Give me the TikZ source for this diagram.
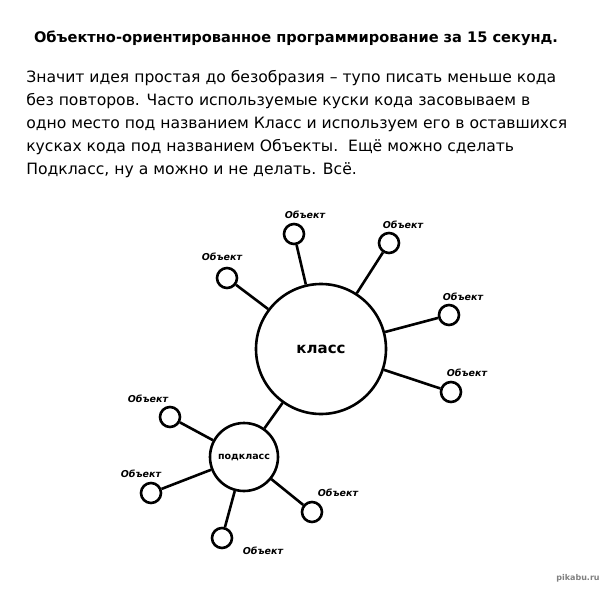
\documentclass[tikz,border=0pt]{standalone}
\usepackage{fontspec}
\setmainfont{DejaVu Sans}
\usetikzlibrary{positioning}
\begin{document}
\begin{tikzpicture}[x=1pt,y=-1pt,line width=2.6pt,big/.style={draw,circle,minimum size=130pt,inner sep=0pt,font=\fontsize{15}{18}\selectfont\bfseries},sub/.style={draw,circle,minimum size=68pt,inner sep=0pt,font=\fontsize{9.5}{11}\selectfont\bfseries},obj/.style={draw,circle,minimum size=20pt,inner sep=0pt},lbl/.style={font=\fontsize{9.5}{11}\selectfont\bfseries\itshape,inner sep=0pt},link/.style={line width=2.6pt}]
\useasboundingbox (0,0) rectangle (600,589);
\node[font=\fontsize{14.6}{18}\selectfont\bfseries] (title) at (296,38){Объектно-ориентированное программирование за 15 секунд.};
\node[anchor=north west,align=left,inner sep=0pt,font=\fontsize{15.6}{23}\selectfont] (text) at (25,69){Значит идея простая до безобразия – тупо писать меньше кода\\без повторов. Часто используемые куски кода засовываем в\\одно место под названием Класс и используем его в оставшихся\\кусках кода под названием Объекты.\ \ Ещё можно сделать\\Подкласс, ну а можно и не делать. Всё.};
% класс и его объекты
\node[big] (klass) at (321,349){класс};
\node[obj] (o1) at (227,278){}; \node[lbl] (l1) at (222,257){Объект};
\node[obj] (o2) at (294,234){}; \node[lbl] (l2) at (305,215){Объект};
\node[obj] (o3) at (389,243){}; \node[lbl] (l3) at (403,225){Объект};
\node[obj] (o4) at (449,315){}; \node[lbl] (l4) at (463,297){Объект};
\node[obj] (o5) at (451,392){}; \node[lbl] (l5) at (467,373){Объект};
% подкласс и его объекты
\node[sub] (podklass) at (244,457){подкласс};
\node[obj] (p1) at (170,417){}; \node[lbl] (m1) at (148,399){Объект};
\node[obj] (p2) at (151,493){}; \node[lbl] (m2) at (141,474){Объект};
\node[obj] (p3) at (222,538){}; \node[lbl] (m3) at (263,551){Объект};
\node[obj] (p4) at (312,512){}; \node[lbl] (m4) at (338,493){Объект};
\node[font=\fontsize{8}{9}\selectfont\bfseries,text=gray] (mark) at (578,578){pikabu.ru};
\foreach \o in {o1,o2,o3,o4,o5,podklass}{\draw[link] (klass) -- (\o);}
\foreach \p in {p1,p2,p3,p4}{\draw[link] (podklass) -- (\p);}
\end{tikzpicture}
\end{document}
